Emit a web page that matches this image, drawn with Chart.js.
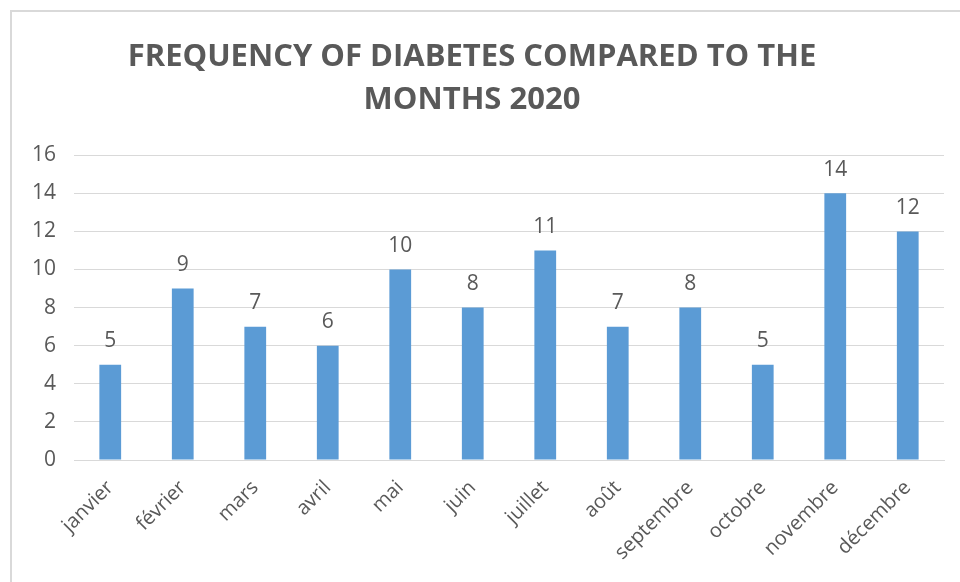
<!DOCTYPE html>
<html>
<head>
<meta charset="utf-8">
<script src="https://cdn.jsdelivr.net/npm/chart.js@4"></script>
<style>
  body { margin: 0; background: #fff; }
  .wrap { position: relative; width: 960px; height: 582px; }
  .frame { position: absolute; left: 10px; top: 10px; right: -5px; bottom: -5px;
           border-left: 2px solid #d9d9d9; border-top: 2px solid #d9d9d9; pointer-events: none; }
</style>
</head>
<body>
<div class="wrap">
  <canvas id="chart" width="960" height="582"></canvas>
  <div class="frame"></div>
</div>
<script>
var months = ['janvier', 'février', 'mars', 'avril', 'mai', 'juin', 'juillet', 'août', 'septembre', 'octobre', 'novembre', 'décembre'];
var cases = [5, 9, 7, 6, 10, 8, 11, 7, 8, 5, 14, 12];
var titleLines = ['FREQUENCY OF DIABETES COMPARED TO THE', 'MONTHS 2020'];

var textColor = '#595959';
var font = '"Open Sans", Lato, sans-serif';

// values written above each bar
var barLabels = {
    id: 'barLabels',
    afterDatasetsDraw: function(chart) {
        var ctx = chart.ctx;
        var meta = chart.getDatasetMeta(0);
        ctx.save();
        ctx.font = '21px ' + font;
        ctx.fillStyle = textColor;
        ctx.textAlign = 'center';
        ctx.textBaseline = 'bottom';
        meta.data.forEach(function(bar, i) {
            ctx.fillText(cases[i], bar.x, bar.y - 13);
        });
        ctx.restore();
    }
};

var ctx = document.getElementById('chart').getContext('2d');
var chart = new Chart(ctx, {
    type: 'bar',
    data: {
        labels: months,
        datasets: [{
            data: cases,
            backgroundColor: '#5b9bd5',
            borderWidth: 0,
            barPercentage: 0.3,
            categoryPercentage: 1
        }]
    },
    options: {
        responsive: false,
        animation: false,
        layout: { padding: { left: 0, right: 16, top: 0, bottom: 0 } },
        plugins: {
            legend: { display: false },
            tooltip: { enabled: false },
            title: {
                display: true,
                text: titleLines,
                color: textColor,
                font: { family: font, size: 31, weight: 'bold', lineHeight: 1.39 },
                padding: { top: 36, bottom: 33 }
            }
        },
        scales: {
            x: {
                grid: { display: false, drawTicks: false },
                border: { color: '#d9d9d9', width: 1 },
                ticks: {
                    color: textColor,
                    font: { family: font, size: 20 },
                    minRotation: 45,
                    maxRotation: 45,
                    padding: 16
                },
                afterFit: function(scale) { scale.height = 122; }
            },
            y: {
                min: 0,
                max: 16,
                grid: { color: '#d9d9d9', drawTicks: false },
                border: { display: false },
                ticks: {
                    stepSize: 2,
                    color: textColor,
                    font: { family: font, size: 21 },
                    padding: 18
                },
                afterFit: function(scale) { scale.width = 74; }
            }
        }
    },
    plugins: [barLabels]
});
</script>
</body>
</html>
